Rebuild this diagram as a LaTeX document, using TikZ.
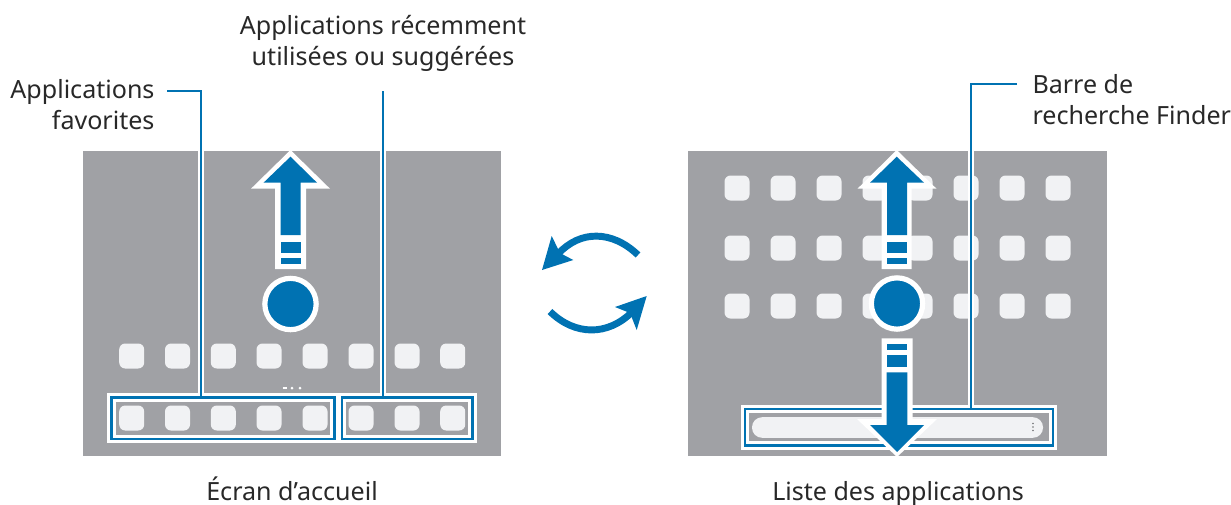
\documentclass[tikz,border=0pt]{standalone}
\usepackage{fontspec}
\setmainfont{Noto Sans}
\definecolor{screengray}{RGB}{160,161,165}
\definecolor{markblue}{RGB}{0,114,178}
\definecolor{iconwhite}{RGB}{241,242,244}
\definecolor{labelink}{RGB}{40,40,40}
\tikzset{every picture/.style={line width=0.75pt}}
\tikzset{
  screen/.style={fill=screengray,draw=none},
  appicon/.style={fill=iconwhite,draw=none,rectangle,rounded corners=4.5pt,minimum width=18.75pt,minimum height=18.75pt,inner sep=0,outer sep=0},
  groupbox/.style={rectangle,draw=markblue,line width=2.2pt,inner sep=0,outer sep=0,preaction={draw=white,line width=6.4pt}},
  leader/.style={draw=markblue,line width=2pt},
  leadercase/.style={draw=white,line width=4.8pt},
  swipecase/.style={fill=white,draw=none},
  swipefill/.style={fill=markblue,draw=none},
  swipedot/.style={circle,fill=markblue,draw=white,line width=3.9pt,minimum size=38.5pt,inner sep=0},
  turnline/.style={draw=markblue,line width=5.2pt},
  caption/.style={inner sep=0.75pt,text=labelink,font=\fontsize{18.8}{23.25}\selectfont}
}
\begin{document}
\begin{tikzpicture}[x=0.75pt,y=0.75pt,yscale=-1,xscale=1]
\useasboundingbox (0,0) rectangle (1231,504);

% Screens
\draw [screen] (83,151) rectangle (501,456);
\draw [screen] (688,151) rectangle (1107,456);

% Home screen icons
\draw (131.7,356) node (hometa) [appicon] {};
\draw (177.5,356) node (hometb) [appicon] {};
\draw (223.3,356) node (hometc) [appicon] {};
\draw (269,356) node (hometd) [appicon] {};
\draw (315,356) node (homete) [appicon] {};
\draw (361,356) node (hometf) [appicon] {};
\draw (407,356) node (hometg) [appicon] {};
\draw (452.7,356) node (hometh) [appicon] {};
\draw (131.7,418) node (favia) [appicon] {};
\draw (177.5,418) node (favib) [appicon] {};
\draw (223.3,418) node (favic) [appicon] {};
\draw (269,418) node (favid) [appicon] {};
\draw (315,418) node (favie) [appicon] {};
\draw (361,418) node (recia) [appicon] {};
\draw (407,418) node (recib) [appicon] {};
\draw (452.7,418) node (recic) [appicon] {};

% Page dots
\draw [white, line width=0.75pt] (282.5,387.3) -- (287,387.3) (282.5,388.8) -- (287,388.8) ;
\fill [white] (292,388) circle (1.5) ;
\fill [white] (300,388) circle (1.5) ;

% App list icons
\draw (737,188) node (listaa) [appicon] {};
\draw (783,188) node (listab) [appicon] {};
\draw (829,188) node (listac) [appicon] {};
\draw (875,188) node (listad) [appicon] {};
\draw (920,188) node (listae) [appicon] {};
\draw (966,188) node (listaf) [appicon] {};
\draw (1012,188) node (listag) [appicon] {};
\draw (1058,188) node (listah) [appicon] {};
\draw (737,248) node (listba) [appicon] {};
\draw (783,248) node (listbb) [appicon] {};
\draw (829,248) node (listbc) [appicon] {};
\draw (875,248) node (listbd) [appicon] {};
\draw (920,248) node (listbe) [appicon] {};
\draw (966,248) node (listbf) [appicon] {};
\draw (1012,248) node (listbg) [appicon] {};
\draw (1058,248) node (listbh) [appicon] {};
\draw (737,306) node (listca) [appicon] {};
\draw (783,306) node (listcb) [appicon] {};
\draw (829,306) node (listcc) [appicon] {};
\draw (875,306) node (listcd) [appicon] {};
\draw (920,306) node (listce) [appicon] {};
\draw (966,306) node (listcf) [appicon] {};
\draw (1012,306) node (listcg) [appicon] {};
\draw (1058,306) node (listch) [appicon] {};

% Leader corners
\coordinate (favstart) at (167,91);
\coordinate (favcorner) at (201,91);
\coordinate (recstart) at (383,91);
\coordinate (findstart) at (1017,84);
\coordinate (findcorner) at (971,84);

% Leader casing
\draw [leadercase] (201,151) -- (201,400) ;
\draw [leadercase] (383,151) -- (383,400) ;
\draw [leadercase] (971,151) -- (971,410) ;

% Group boxes
\draw (223,418.25) node (favbox) [groupbox,minimum width=167.25pt,minimum height=31.1pt] {};
\draw (407.25,418.25) node (recbox) [groupbox,minimum width=97.9pt,minimum height=31.1pt] {};
\draw (899,427.25) node (findbox) [groupbox,minimum width=231pt,minimum height=27.4pt] {};

% Search bar
\draw (897.5,427.5) node (findbar) [rectangle,fill=iconwhite,rounded corners=7.5pt,minimum width=218.25pt,minimum height=15.4pt,inner sep=0,outer sep=0] {};
\fill [screengray!70!black] (1033,423.5) circle (0.9) (1033,427) circle (0.9) (1033,430.5) circle (0.9) ;

% Leaders
\draw [leader] (favstart) -- (favcorner) -- (favcorner |- favbox.north) ;
\draw [leader] (recstart) -- (recstart |- favbox.north) ;
\draw [leader] (findstart) -- (findcorner) -- (findcorner |- findbox.north) ;

% Swipe up, home screen
\draw [swipecase] (290.5,150) -- (330,188.7) -- (306,188.7) -- (306,269) -- (275,269) -- (275,188.7) -- (251,188.7) -- cycle ;
\draw [swipefill] (290.5,156.7) -- (317,182.7) -- (300.7,182.7) -- (300.7,235) -- (280.7,235) -- (280.7,182.7) -- (263.5,182.7) -- cycle ;
\draw [swipefill] (280.7,241.7) rectangle (300.7,253.3) ;
\draw [swipefill] (280.7,258.3) rectangle (300.7,264.3) ;
\draw (290.5,304) node (homedot) [swipedot] {};

% Swipe up, app list
\draw [swipecase] (896.7,150) -- (936.5,188.7) -- (911.7,188.7) -- (911.7,269) -- (881.7,269) -- (881.7,188.7) -- (857.5,188.7) -- cycle ;
\draw [swipefill] (896.7,156.7) -- (924,182.7) -- (907,182.7) -- (907,235) -- (887,235) -- (887,182.7) -- (870,182.7) -- cycle ;
\draw [swipefill] (887,241.7) rectangle (907,253.3) ;
\draw [swipefill] (887,258.3) rectangle (907,264.3) ;
\draw (897,303.5) node (listdot) [swipedot] {};

% Swipe down, app list
\draw [swipecase] (897,457) -- (937,419) -- (912.7,419) -- (912.7,338.3) -- (881.7,338.3) -- (881.7,419) -- (857,419) -- cycle ;
\draw [swipefill] (897,452) -- (924,425) -- (907.3,425) -- (907.3,372.3) -- (886.7,372.3) -- (886.7,425) -- (870,425) -- cycle ;
\draw [swipefill] (886.7,344) rectangle (907.3,350) ;
\draw [swipefill] (886.7,355) rectangle (907.3,366.7) ;

% Turn arrows
\draw [turnline] (638,255) .. controls (612,230) and (580,230) .. (558,254) ;
\draw [swipefill] (542,270) -- (551.7,236) -- (560,253) -- (573.3,260) -- cycle ;
\draw [turnline] (550,311.5) .. controls (575,336) and (608,336) .. (632,312) ;
\draw [swipefill] (646.7,296) -- (615,307) -- (630,313) -- (636.7,330) -- cycle ;

% Text Node
\draw (156,104.5) node (favlabel) [anchor=east,align=right,caption]  {Applications\\favorites};
% Text Node
\draw (383,43.5) node (reclabel) [align=center,caption]  {Applications récemment\\utilisées ou suggérées};
% Text Node
\draw (1031,99.5) node (findlabel) [anchor=west,align=left,caption]  {Barre de\\recherche Finder};
% Text Node
\draw (292,500.7) node (homelabel) [anchor=base,caption]  {Écran d’accueil};
% Text Node
\draw (898,500.7) node (listlabel) [anchor=base,caption]  {Liste des applications};

\end{tikzpicture}
\end{document}
